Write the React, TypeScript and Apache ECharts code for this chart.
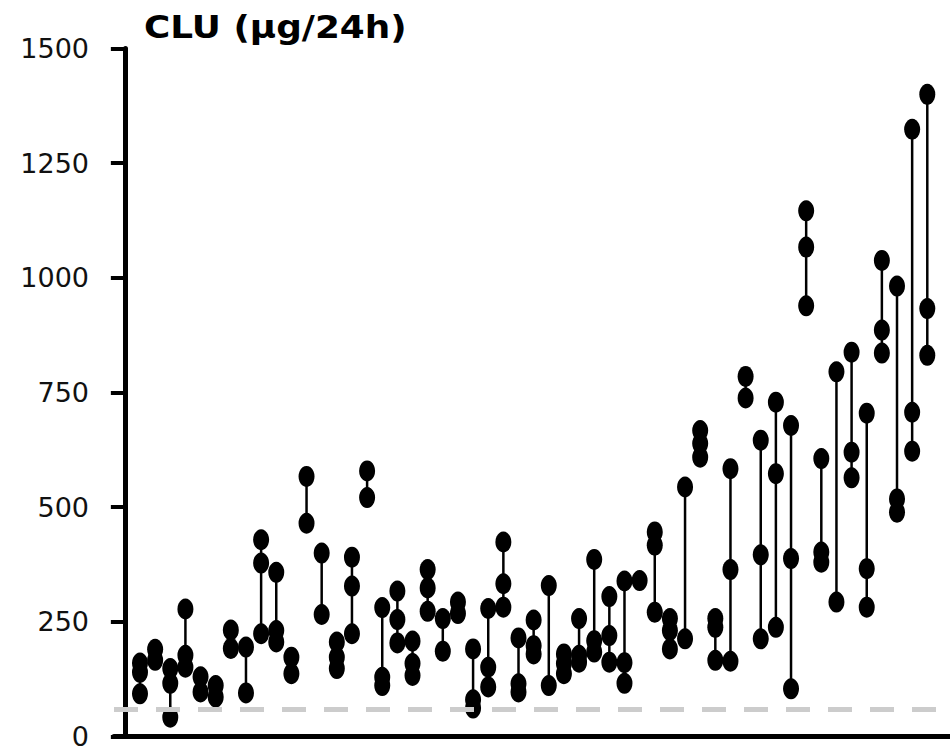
import React, { useEffect, useRef } from "react";
import * as echarts from "echarts";

// CLU readings per subject (µg/24h); null = no reading
const subjectIds: number[] = Array.from({ length: 53 }, (_, i) => i + 1);
const highs: (number | null)[] = [160,190,148,278,130,111,232,195,429,358,173,567,400,206,391,579,281,317,208,364,257,293,191,279,424,215,254,329,180,257,386,305,339,340,446,257,544,667,257,584,785,646,729,678,1146,606,795,838,705,1038,982,1324,1400];
const mids: (number | null)[] = [140,null,116,177,null,null,null,null,378,231,null,null,null,173,328,null,129,255,159,324,null,null,80,151,333,115,198,null,159,177,209,220,161,null,417,231,null,639,238,364,null,396,573,388,1067,402,null,620,366,886,518,707,933];
const lows: (number | null)[] = [93,166,42,151,97,86,192,95,224,206,137,465,266,148,224,521,111,204,133,273,186,268,62,108,282,97,180,111,137,162,184,162,116,null,271,191,213,609,166,164,738,213,238,104,939,380,293,564,282,836,489,622,831];
const upperLimit = 60;
const yTicks = [0, 250, 500, 750, 1000, 1250, 1500];
const titleText = "CLU (µg/24h)";

export default function App() {
  const ref = useRef<HTMLDivElement>(null);
  useEffect(() => {
    if (!ref.current) return;
    const chart = echarts.init(ref.current, null, { renderer: "svg" });

    const points: number[][] = [];
    const ranges: number[][] = [];
    subjectIds.forEach((id, i) => {
      const vals = [highs[i], mids[i], lows[i]].filter((v) => v !== null) as number[];
      vals.forEach((v) => points.push([id, v]));
      if (vals.length > 1) ranges.push([id, Math.min(...vals), Math.max(...vals)]);
    });

    chart.setOption({
      animation: false,
      graphic: [
        {
          type: "text",
          x: 144,
          y: 11,
          scaleX: 1.12,
          silent: true,
          style: {
            text: titleText,
            font: 'bold 32px "DejaVu Sans"',
            fill: "#000",
            align: "left",
            verticalAlign: "top",
            shadowColor: "rgba(0,0,0,0.3)",
            shadowBlur: 3,
            shadowOffsetX: 1,
            shadowOffsetY: 1,
          },
        },
      ],
      grid: { left: 114, right: 0, top: 48.5, bottom: 13.5, containLabel: false },
      xAxis: {
        type: "value",
        min: -0.717,
        max: 54.5,
        axisLine: { show: true, onZero: false, lineStyle: { color: "#000", width: 5 } },
        axisTick: { show: false },
        axisLabel: { show: false },
        splitLine: { show: false },
      },
      yAxis: {
        type: "value",
        min: yTicks[0],
        max: yTicks[yTicks.length - 1],
        interval: 250,
        axisLine: { show: true, lineStyle: { color: "#000", width: 5 } },
        axisTick: { show: true, inside: false, length: 14, lineStyle: { color: "#000", width: 4 } },
        axisLabel: {
          margin: 25,
          fontFamily: "DejaVu Sans",
          fontWeight: "normal",
          fontSize: 27,
          color: "#111",
          formatter: (v: number) => String(v),
        },
        splitLine: { show: false },
      },
      series: [
        {
          type: "custom",
          z: 1,
          silent: true,
          data: ranges,
          encode: { x: 0, y: [1, 2] },
          renderItem: (params: any, api: any) => {
            const x = api.value(0);
            const p1 = api.coord([x, api.value(1)]);
            const p2 = api.coord([x, api.value(2)]);
            return {
              type: "line",
              shape: { x1: p1[0], y1: p1[1], x2: p2[0], y2: p2[1] },
              style: { stroke: "#000", lineWidth: 2.5 },
            };
          },
          markLine: {
            silent: true,
            symbol: ["none", "none"],
            label: { show: false },
            lineStyle: { color: "#cccccc", width: 5, type: [24, 18], opacity: 1 },
            data: [{ yAxis: upperLimit }],
          },
        },
        {
          type: "scatter",
          z: 3,
          silent: true,
          symbol: "circle",
          symbolSize: [16, 21],
          itemStyle: { color: "#000", opacity: 1 },
          data: points,
        },
      ],
    });
    return () => chart.dispose();
  }, []);
  return (
    <div
      ref={ref}
      style={{ position: "fixed", left: 0, top: 0, width: 950, height: 750, background: "#fff" }}
    />
  );
}
